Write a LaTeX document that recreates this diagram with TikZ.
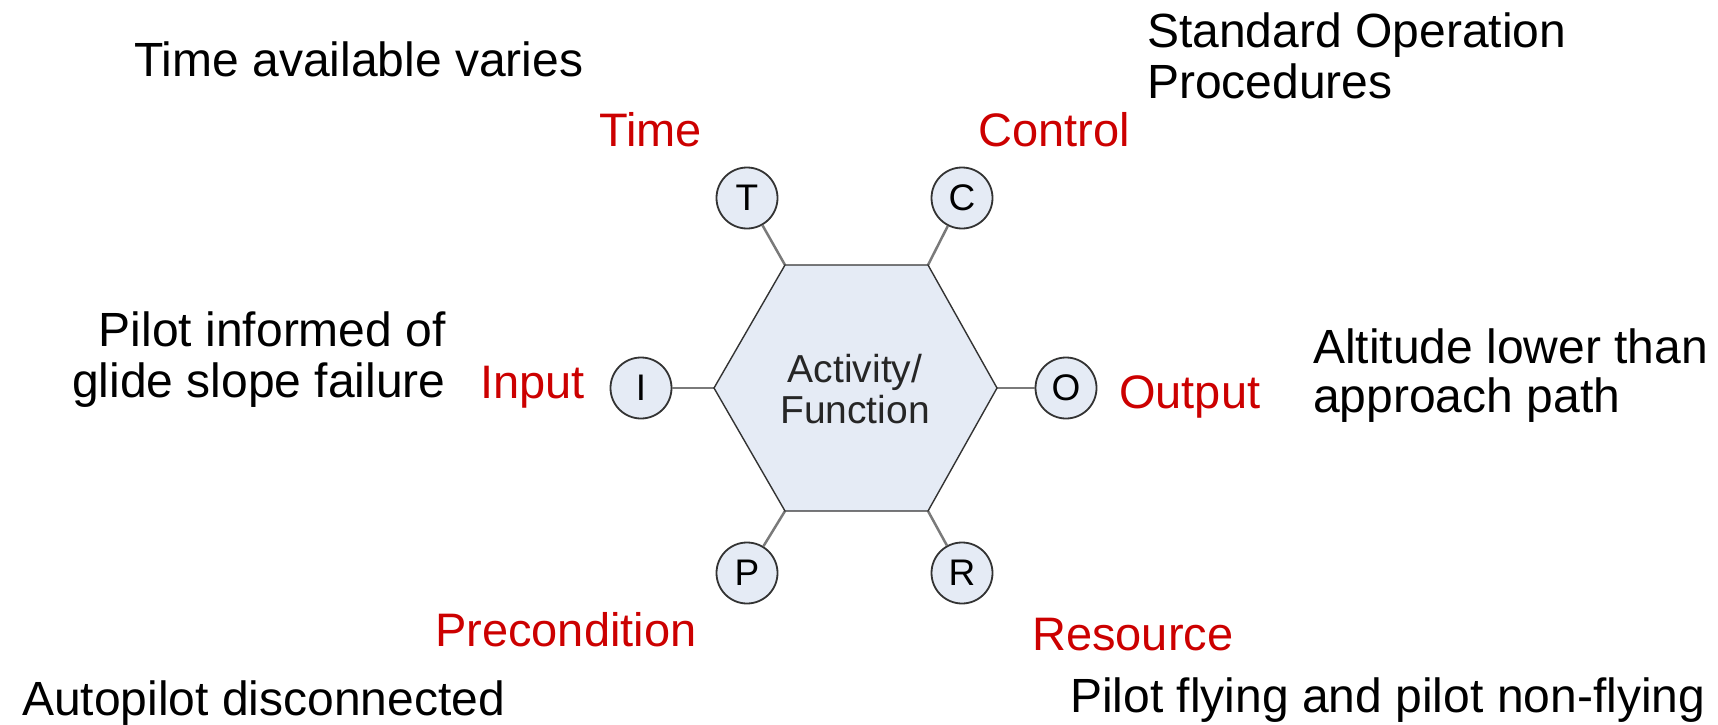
\documentclass[tikz,border=0pt]{standalone}
\usepackage{fontspec}
\setmainfont{Liberation Sans}
\definecolor{labelred}{HTML}{CC0000}
\definecolor{portfill}{HTML}{E5EBF5}
\definecolor{portedge}{HTML}{333333}
\definecolor{linkgray}{HTML}{7A7A7A}
\begin{document}
\begin{tikzpicture}[x=1pt,y=-1pt,
  note/.style={font=\fontsize{48}{50}\selectfont, inner sep=0pt, text=black},
  aspect/.style={font=\fontsize{47}{50}\selectfont, inner sep=0pt, text=labelred},
  port/.style={circle, draw=portedge, line width=1.8pt, fill=portfill,
    minimum size=61pt, inner sep=0pt, font=\fontsize{37}{37}\selectfont},
  link/.style={draw=linkgray, line width=2.5pt},
  hexedge/.style={draw=portedge, line width=1.4pt, fill=portfill, line join=miter}]
\useasboundingbox (0,0) rectangle (1718,725);

% hexagon corners
\coordinate (hTL) at (785,265);
\coordinate (hTR) at (928,265);
\coordinate (hR)  at (997,388);
\coordinate (hBR) at (928,511);
\coordinate (hBL) at (785,511);
\coordinate (hL)  at (714,388);

% the six aspect ports
\node[port] (T) at (747,198) {T};
\node[port] (C) at (962,198) {C};
\node[port] (I) at (641,388) {I};
\node[port] (O) at (1066,388) {O};
\node[port] (P) at (747,573) {P};
\node[port] (R) at (962,573) {R};

% connectors from ports to hexagon corners
\draw[link] (T) -- (hTL);
\draw[link] (C) -- (hTR);
\draw[link] (I) -- (hL);
\draw[link] (O) -- (hR);
\draw[link] (P) -- (hBL);
\draw[link] (R) -- (hBR);

% the function hexagon
\path[hexedge] (hTL) -- (hTR) -- (hR) -- (hBR) -- (hBL) -- (hL) -- cycle;
\node[align=center, inner sep=0pt, font=\fontsize{39}{41}\selectfont, text=black!85]
  (F) at (855,389) {Activity/\\Function};

% aspect names
\node[aspect, anchor=base west] (tlab) at (599,146) {Time};
\node[aspect, anchor=base west] (clab) at (978,146) {Control};
\node[aspect, anchor=base west] (ilab) at (480,398) {Input};
\node[aspect, anchor=base west] (olab) at (1119,408) {Output};
\node[aspect, anchor=base west] (plab) at (435,646) {Precondition};
\node[aspect, anchor=base west] (rlab) at (1032,650) {Resource};

% example values for each aspect
\node[note, anchor=base west] (tval) at (134,77) {Time available varies};
\node[note, anchor=base west] (cval1) at (1147,48) {Standard Operation};
\node[note, anchor=base west] (cval2) at (1147,98) {Procedures};
\node[note, anchor=base east] (ival1) at (446,346) {Pilot informed of};
\node[note, anchor=base east] (ival2) at (446,397) {glide slope failure};
\node[note, anchor=base west] (oval1) at (1313,363) {Altitude lower than};
\node[note, anchor=base west] (oval2) at (1313,412) {approach path};
\node[note, anchor=base west] (pval) at (22,715) {Autopilot disconnected};
\node[note, anchor=base west] (rval) at (1070,712) {Pilot flying and pilot non-flying};
\end{tikzpicture}
\end{document}
